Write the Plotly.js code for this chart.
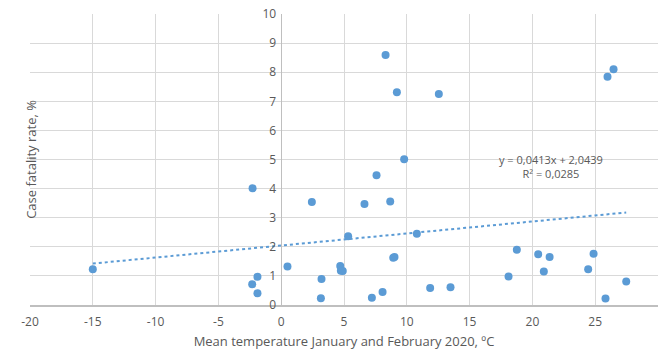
<!DOCTYPE html>
<html><head><meta charset="utf-8">
<script src="https://cdn.plot.ly/plotly-3.0.1.min.js"></script>
<style>html,body{margin:0;padding:0;background:#fff;}#chart{width:662px;height:351px;}</style>
</head><body><div id="chart"></div>
<script>
// Mean temperature Jan-Feb 2020 (°C)
const temperature = [-15.0, -2.28, 2.44, 0.50, -1.89, -2.31, -1.89, 3.21, 3.16,
  8.31, 9.21, 12.55, 25.98, 26.46, 9.79, 7.59,
  6.63, 8.68, 5.33, 10.80, 4.70, 4.75, 4.90, 8.92, 9.02, 7.22, 8.07, 11.86, 13.48,
  18.10, 18.76, 20.46, 21.37, 20.91, 24.44, 24.87, 25.82, 27.47];
// Case fatality rate (%)
const fatality = [1.23, 4.01, 3.54, 1.32, 0.97, 0.71, 0.40, 0.89, 0.23,
  8.59, 7.31, 7.25, 7.84, 8.10, 5.01, 4.46,
  3.47, 3.56, 2.36, 2.45, 1.34, 1.18, 1.17, 1.62, 1.65, 0.25, 0.45, 0.58, 0.61,
  0.98, 1.90, 1.74, 1.65, 1.15, 1.23, 1.76, 0.22, 0.81];
const trendSlope = 0.0413;
const trendIntercept = 2.0439;
const trendLabel = "y = 0,0413x + 2,0439<br>R² = 0,0285";
const xTicks = [-20, -15, -10, -5, 0, 5, 10, 15, 20, 25, 30];
const yTicks = [0, 1, 2, 3, 4, 5, 6, 7, 8, 9, 10];

const xMin = Math.min(...temperature), xMax = Math.max(...temperature);
const trendX = [xMin, xMax];
const trendY = trendX.map(v => trendSlope * v + trendIntercept);

const grey = '#595959';
const data = [
  {x: trendX, y: trendY, mode: 'lines', type: 'scatter',
   line: {color: '#5b9bd5', width: 2, dash: 'dot'}, hoverinfo: 'skip'},
  {x: temperature, y: fatality, mode: 'markers', type: 'scatter',
   marker: {color: '#5b9bd5', size: 8}}
];
const layout = {
  width: 662, height: 351,
  margin: {l: 30, r: 4, t: 14, b: 46},
  paper_bgcolor: '#fff', plot_bgcolor: '#fff',
  showlegend: false,
  font: {family: 'Open Sans, sans-serif', size: 12, color: grey},
  xaxis: {range: [-20, 30], tickvals: xTicks, ticktext: xTicks.map(String),
    showgrid: true, gridcolor: '#d9d9d9', gridwidth: 1,
    zeroline: true, zerolinecolor: '#bfbfbf', zerolinewidth: 1,
    showline: true, linecolor: '#bfbfbf', linewidth: 1.5, ticks: '',
    ticklabelstandoff: 5,
    tickfont: {size: 12, color: grey},
    title: {text: 'Mean temperature January and February 2020, ºC', font: {size: 13, color: grey}, standoff: 8}},
  yaxis: {range: [0, 10], tickvals: yTicks, ticktext: yTicks.map(String),
    anchor: 'free', position: 0.4,
    showgrid: true, gridcolor: '#d9d9d9', gridwidth: 1,
    zeroline: false, showline: false, ticks: '',
    ticklabelstandoff: 5,
    tickfont: {size: 12, color: grey}},
  annotations: [
    {xref: 'paper', yref: 'paper', x: -0.017, y: 0.5, text: 'Case fatality rate, %',
     textangle: -90, showarrow: false, font: {size: 13, color: grey}},
    {xref: 'x', yref: 'y', x: 21.5, y: 4.75, text: trendLabel, showarrow: false,
     align: 'center', font: {size: 11, color: grey}}
  ]
};
Plotly.newPlot('chart', data, layout, {staticPlot: true});
</script></body></html>
